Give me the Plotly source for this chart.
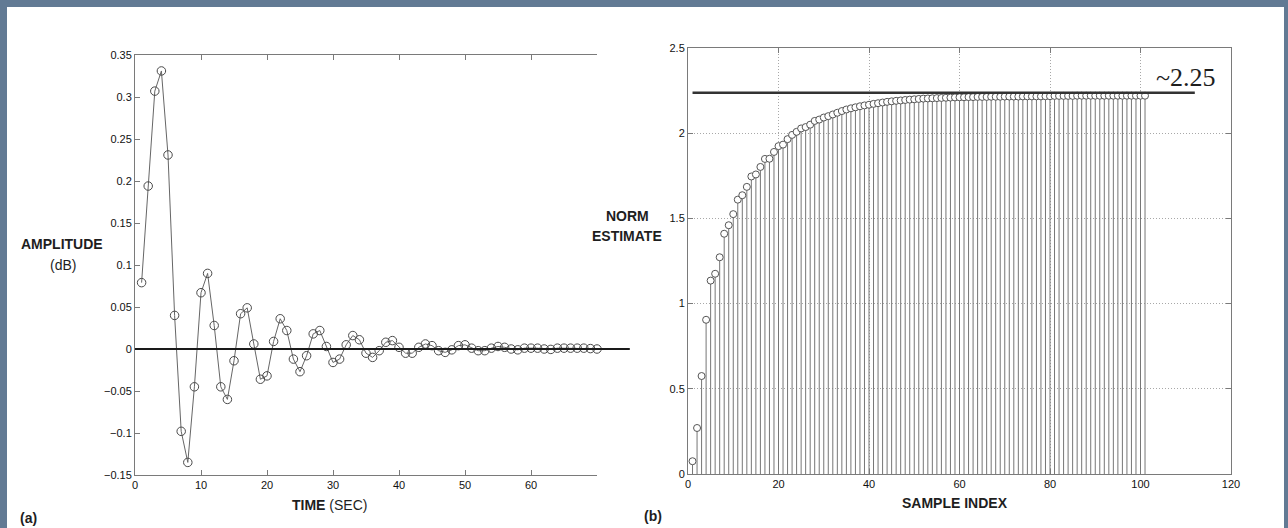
import plotly.graph_objects as go

# ---------------- data ----------------
# (a) damped response
time_sec = list(range(1, 71))
amplitude_db = [
    0.079, 0.194, 0.307, 0.331, 0.231, 0.040, -0.098, -0.135, -0.045, 0.067,
    0.090, 0.028, -0.045, -0.060, -0.014, 0.042, 0.049, 0.006, -0.036, -0.032,
    0.009, 0.036, 0.022, -0.012, -0.027, -0.008, 0.018, 0.022, 0.003, -0.016,
    -0.012, 0.005, 0.016, 0.011, -0.005, -0.010, -0.002, 0.008, 0.010, 0.002,
    -0.005, -0.005, 0.002, 0.006, 0.004, -0.002, -0.004, -0.001, 0.004, 0.005,
    0.001, -0.002, -0.002, 0.001, 0.003, 0.002, 0.000, -0.001, 0.001, 0.001,
    0.001, 0.000, -0.0005, 0.001, 0.001, 0.001, 0.001, 0.001, 0.0005, 0.000,
]

# (b) norm estimate
sample_index = list(range(1, 102))
norm_estimate = [
    0.075, 0.270, 0.575, 0.905, 1.135, 1.175, 1.272, 1.410, 1.460, 1.525,
    1.610, 1.636, 1.685, 1.746, 1.758, 1.802, 1.849, 1.850, 1.890, 1.924,
    1.933, 1.965, 1.990, 2.008, 2.028, 2.036, 2.050, 2.072, 2.080, 2.092,
    2.100, 2.110, 2.120, 2.130, 2.139, 2.146, 2.152, 2.158, 2.163, 2.167,
    2.172, 2.176, 2.180, 2.184, 2.187, 2.190, 2.192, 2.195, 2.197, 2.199,
    2.201, 2.203, 2.204, 2.205, 2.206, 2.207, 2.208, 2.209, 2.210, 2.211,
    2.211, 2.212, 2.212, 2.213, 2.213, 2.213, 2.214, 2.214, 2.214, 2.215,
    2.215, 2.215, 2.215, 2.216, 2.216, 2.216, 2.216, 2.216, 2.217, 2.217,
    2.219, 2.219, 2.219, 2.219, 2.219, 2.220, 2.220, 2.220, 2.220, 2.220,
    2.220, 2.220, 2.220, 2.220, 2.220, 2.220, 2.220, 2.220, 2.220, 2.220,
    2.220,
]
norm_limit = 2.238
norm_limit_x = [1, 112]
norm_limit_label = "~2.25"

# ticks
a_xtick_vals = [0, 10, 20, 30, 40, 50, 60, 70]
a_xtick_text = ["0", "10", "20", "30", "40", "50", "60", ""]
a_ytick_vals = [0.35, 0.3, 0.25, 0.2, 0.15, 0.1, 0.05, 0, -0.05, -0.1, -0.15]
a_ytick_text = ["0.35", "0.3", "0.25", "0.2", "0.15", "0.1", "0.05", "0",
                "\u22120.05", "\u22120.1", "\u22120.15"]
b_xtick_vals = [0, 20, 40, 60, 80, 100, 120]
b_xtick_text = ["0", "20", "40", "60", "80", "100", "120"]
b_ytick_vals = [0, 0.5, 1, 1.5, 2, 2.5]
b_ytick_text = ["0", "0.5", "1", "1.5", "2", "2.5"]

# ---------------- figure ----------------
W, H = 1288, 528
SANS = "Liberation Sans, Arial, sans-serif"
SERIF = "Liberation Serif, Times New Roman, serif"
BORDER = "#627a94"


def px(x):
    return x / W


def py(y):
    return 1 - y / H


fig = go.Figure()

# (a) response curve
fig.add_trace(go.Scatter(
    x=time_sec, y=amplitude_db, mode="lines+markers",
    line=dict(color="#666666", width=1),
    marker=dict(symbol="circle-open", size=8.5, color="#4a4a4a",
                line=dict(width=1, color="#4a4a4a")),
    cliponaxis=False, xaxis="x", yaxis="y", showlegend=False,
))

# (b) stems
stem_x, stem_y = [], []
for xi, yi in zip(sample_index, norm_estimate):
    stem_x += [xi, xi, None]
    stem_y += [0, yi, None]
fig.add_trace(go.Scatter(
    x=stem_x, y=stem_y, mode="lines",
    line=dict(color="#767676", width=1),
    xaxis="x2", yaxis="y2", showlegend=False, hoverinfo="skip",
))
fig.add_trace(go.Scatter(
    x=sample_index, y=norm_estimate, mode="markers",
    marker=dict(symbol="circle", size=7, color="white",
                line=dict(width=1, color="#555555")),
    xaxis="x2", yaxis="y2", showlegend=False,
))
# (b) limit line
fig.add_trace(go.Scatter(
    x=norm_limit_x, y=[norm_limit, norm_limit], mode="lines",
    line=dict(color="#333333", width=2.5),
    xaxis="x2", yaxis="y2", showlegend=False,
))

tickfont = dict(family=SANS, size=11, color="#111111")

common_axis = dict(
    showline=True, linecolor="#7a7a7a", linewidth=1,
    ticks="inside", ticklen=5, tickcolor="#7a7a7a",
    tickfont=tickfont, zeroline=False, automargin=False,
)

fig.update_layout(
    template="none",
    width=W, height=H,
    margin=dict(l=0, r=0, t=0, b=0, pad=0, autoexpand=False),
    paper_bgcolor=BORDER,
    plot_bgcolor="white",
    xaxis=dict(domain=[px(135), px(597)], anchor="y", range=[0, 70],
               tickvals=a_xtick_vals, ticktext=a_xtick_text,
               mirror="ticks", showgrid=False, **common_axis),
    yaxis=dict(domain=[py(475), py(55)], anchor="x", range=[-0.15, 0.35],
               tickvals=a_ytick_vals, ticktext=a_ytick_text,
               mirror=False, showgrid=False, **common_axis),
    xaxis2=dict(domain=[px(688), px(1231)], anchor="y2", range=[0, 120],
                tickvals=b_xtick_vals, ticktext=b_xtick_text,
                mirror="ticks", showgrid=True, gridcolor="#a8a8a8",
                griddash="1px,2px", gridwidth=1, **common_axis),
    yaxis2=dict(domain=[py(474), py(48)], anchor="x2", range=[0, 2.5],
                tickvals=b_ytick_vals, ticktext=b_ytick_text,
                mirror="ticks", showgrid=True, gridcolor="#a8a8a8",
                griddash="1px,2px", gridwidth=1, **common_axis),
)

# white panel inside the slate border
fig.add_shape(type="rect", xref="paper", yref="paper",
              x0=px(7), x1=px(1284), y0=-0.02, y1=py(7),
              fillcolor="white", line=dict(width=0), layer="below")

# (a) zero reference line, running slightly past the axis end
fig.add_shape(type="line", xref="x domain", yref="y",
              x0=0, x1=1.071, y0=0, y1=0,
              line=dict(color="#1a1a1a", width=2))


def note(text, x, y, size=14, family=SANS, xanchor="center"):
    fig.add_annotation(text=text, x=px(x), y=py(y), xref="paper", yref="paper",
                       showarrow=False, xanchor=xanchor, yanchor="middle",
                       font=dict(family=family, size=size, color="#1e1e1e"))


note("<b>AMPLITUDE</b>", 62, 244)
note("(dB)", 63, 265)
note("<b>TIME</b> (SEC)", 329, 505)
note("<b>NORM</b>", 627, 216)
note("<b>ESTIMATE</b>", 627, 236)
note("<b>SAMPLE INDEX</b>", 955, 503)
note("<b>(a)</b>", 28, 518)
note("<b>(b)</b>", 653, 516)

fig.add_annotation(text=norm_limit_label, x=110, y=2.325, xref="x2", yref="y2",
                   showarrow=False, xanchor="center", yanchor="middle",
                   font=dict(family=SERIF, size=26, color="#1e1e1e"))

fig.write_html(
    "out.html",
    config={"displayModeBar": False},
    post_script="document.body.style.margin='0px';document.body.style.overflow='hidden';",
)
